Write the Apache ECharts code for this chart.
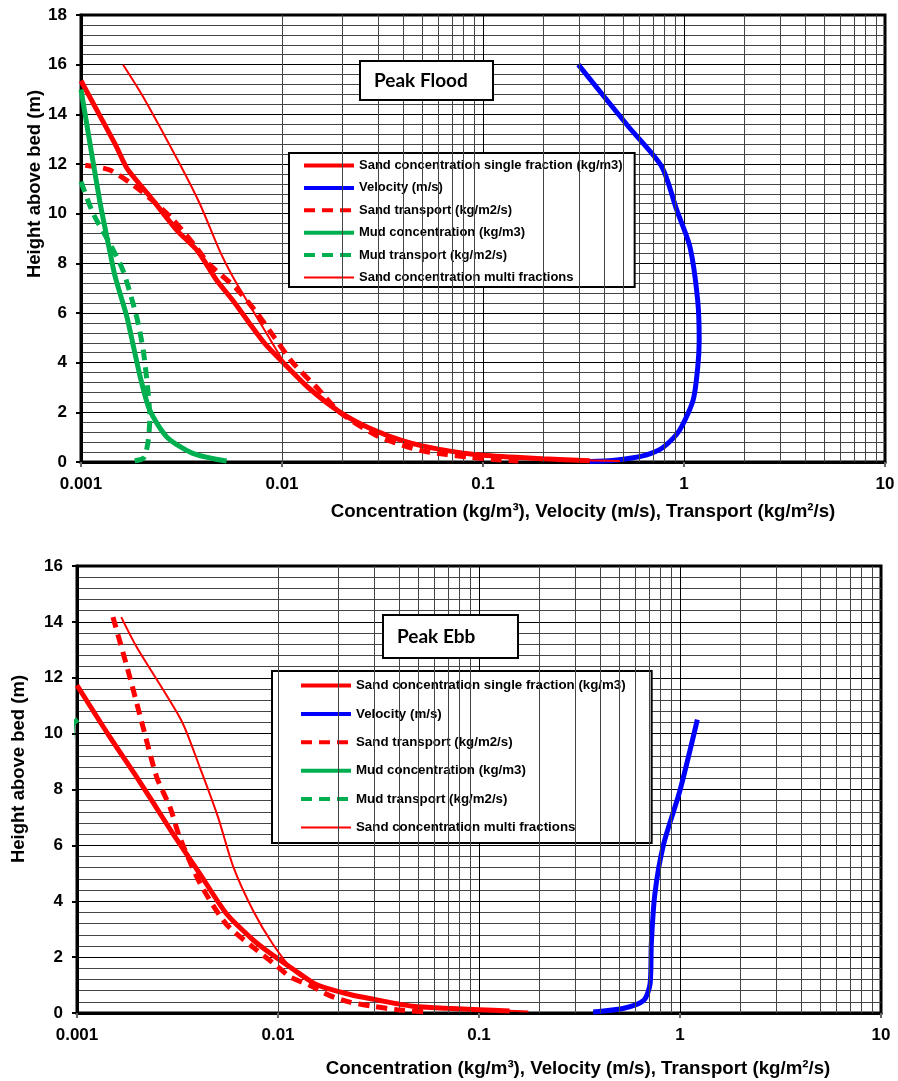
<!DOCTYPE html>
<html><head><meta charset="utf-8">
<script src="https://cdn.jsdelivr.net/npm/echarts@6/dist/echarts.min.js"></script>
<style>html,body{margin:0;padding:0;background:#fff}#c{width:898px;height:1081px}</style>
</head><body><div id="c"></div>
<script>
// ---------- names & labels ----------
const seriesNames = [
  'Sand concentration single fraction (kg/m3)',
  'Velocity (m/s)',
  'Sand transport (kg/m2/s)',
  'Mud concentration (kg/m3)',
  'Mud transport (kg/m2/s)',
  'Sand concentration multi fractions'
];
const panelTitles = ['Peak Flood', 'Peak Ebb'];
const xTickLabels = ['0.001', '0.01', '0.1', '1', '10'];
const xAxisTitle = 'Concentration (kg/m\u00B3), Velocity (m/s), Transport (kg/m\u00B2/s)';
const yAxisTitle = 'Height above bed (m)';

// ---------- Peak Flood data: [value, height] ----------
const floodSandConc = [[0.001,15.35],[0.00125,13.9],[0.0015,12.7],[0.0017,11.8],[0.0022,10.7],[0.003,9.33],[0.0038,8.5],[0.0047,7.35],[0.0057,6.5],[0.0068,5.65],[0.0082,4.78],[0.01,4.05],[0.0135,3.0],[0.0195,2.0],[0.027,1.38],[0.04,0.85],[0.06,0.52],[0.1,0.27],[0.2,0.13],[0.34,0.05]];
const floodVelocity = [[0.298,16.0],[0.53,13.5],[0.774,11.9],[0.92,10.15],[1.07,8.67],[1.17,6.5],[1.19,4.9],[1.17,3.8],[1.11,2.49],[0.95,1.28],[0.79,0.6],[0.68,0.34],[0.56,0.17],[0.44,0.06],[0.34,0.02]];
const floodSandTransport = [[0.00105,11.95],[0.0014,11.75],[0.002,10.9],[0.0028,9.85],[0.0037,8.7],[0.0043,8.0],[0.0059,7.0],[0.0075,6.0],[0.0092,5.0],[0.0113,4.0],[0.0149,3.0],[0.0194,2.0],[0.0295,1.07],[0.04,0.67],[0.05,0.45],[0.066,0.3],[0.086,0.19],[0.113,0.1],[0.15,0.04]];
const floodMudConc = [[0.001,15.0],[0.00124,10.5],[0.00139,8.5],[0.00148,7.45],[0.00169,5.85],[0.00197,3.43],[0.0022,2.08],[0.00268,1.0],[0.0036,0.35],[0.0053,0.04]];
const floodMudTransport = [[0.001,11.29],[0.00115,10.0],[0.00139,8.8],[0.00162,7.7],[0.00189,5.85],[0.00204,4.5],[0.00215,2.9],[0.0022,1.8],[0.00215,0.75],[0.00204,0.15],[0.0018,0.04]];
const floodSandMulti = [[0.00162,16.0],[0.00204,14.7],[0.0031,12.0],[0.0039,10.4],[0.0049,8.5],[0.0057,7.45],[0.0068,6.4],[0.0078,5.6],[0.0094,4.5],[0.0105,3.9],[0.0135,3.0],[0.0195,2.0],[0.0306,1.2],[0.06,0.52],[0.1,0.27],[0.2,0.12],[0.48,0.04]];

// ---------- Peak Ebb data: [value, height] ----------
const ebbSandConc = [[0.001,11.73],[0.00145,9.9],[0.00195,8.52],[0.00235,7.62],[0.003,6.42],[0.00408,4.99],[0.00553,3.56],[0.0073,2.7],[0.00876,2.24],[0.0128,1.41],[0.0155,1.02],[0.022,0.69],[0.032,0.45],[0.047,0.24],[0.069,0.17],[0.1,0.12],[0.142,0.07]];
const ebbVelocity = [[1.22,10.5],[1.0,7.97],[0.83,6.06],[0.75,4.27],[0.72,2.48],[0.71,1.05],[0.66,0.45],[0.52,0.16],[0.37,0.04]];
const ebbSandTransport = [[0.00151,14.17],[0.00183,12.03],[0.00213,10.24],[0.00249,8.45],[0.0029,7.37],[0.00324,6.3],[0.0041,4.63],[0.0055,3.2],[0.0075,2.36],[0.0098,1.7],[0.0115,1.29],[0.0144,0.99],[0.018,0.63],[0.0228,0.39],[0.0297,0.24],[0.039,0.12],[0.054,0.04]];
const ebbMudConc = [[0.00101,10.5],[0.00095,10.3],[0.0008,0.05]];
const ebbMudTransport = [];
const ebbSandMulti = [[0.00166,14.17],[0.00198,13.1],[0.0033,10.48],[0.00408,8.8],[0.00503,7.01],[0.006,5.22],[0.0075,3.68],[0.0094,2.48],[0.0119,1.53],[0.0144,1.12],[0.022,0.7],[0.047,0.25],[0.1,0.12],[0.176,0.05]];

// ---------- axis ranges ----------
const yMaxes = [18, 16];

// minor log grid positions (2..9 per decade)
const minorX = [];
[0.001, 0.01, 0.1, 1].forEach(d => { for (let m = 2; m <= 9; m++) minorX.push(+(m * d).toPrecision(3)); });

const FONT = '"Liberation Sans", Arial, sans-serif';
const RED = '#FF0000', BLUE = '#0000FF', GREEN = '#00B050';
const styles = [
  {color: RED, width: 5, lw: 4, type: 'solid'},
  {color: BLUE, width: 5, lw: 4, type: 'solid'},
  {color: RED, width: 5, lw: 4, type: [11, 7]},
  {color: GREEN, width: 5, lw: 4, type: 'solid'},
  {color: GREEN, width: 5, lw: 4, type: [11, 7]},
  {color: RED, width: 2, lw: 2, type: 'solid'}
];

const grids = [
  {left: 81, top: 15, width: 804, height: 447},
  {left: 77, top: 566, width: 804, height: 447}
];
const layout = [
  {xNamePad: 200, xNameGap: 40, yNamePad: 109, yNameGap: 37,
   legend: {left: 289, top: 153, padding: [6, 12, 3, 13], itemGap: 9.4, fontSize: 13},
   title: {left: 360, top: 61, padding: [10, 25, 10, 14]}},
  {xNamePad: 198, xNameGap: 46, yNamePad: 41, yNameGap: 49,
   legend: {left: 272, top: 671, padding: [8, 26, 9, 27], itemGap: 15.4, fontSize: 13.3},
   title: {left: 383, top: 615, padding: [12, 43, 12, 14]}}
];
const dataSets = [
  [floodSandConc, floodVelocity, floodSandTransport, floodMudConc, floodMudTransport, floodSandMulti],
  [ebbSandConc, ebbVelocity, ebbSandTransport, ebbMudConc, ebbMudTransport, ebbSandMulti]
];

const xAxes = [], yAxes = [], series = [], legends = [], titles = [];
grids.forEach((g, gi) => {
  g.show = true; g.borderColor = '#000'; g.borderWidth = 3; g.backgroundColor = '#fff';
  g.containLabel = false; g.outerBoundsMode = 'none';
  const L = layout[gi];
  xAxes.push({
    type: 'log', logBase: 10, gridIndex: gi, min: 0.001, max: 10,
    axisLine: {show: true, lineStyle: {color: '#000', width: 3}},
    axisTick: {show: true, length: 5, lineStyle: {color: '#666', width: 2}},
    axisLabel: {fontFamily: FONT, fontWeight: 'bold', fontSize: 17, color: '#000', margin: 14,
      formatter: v => xTickLabels[Math.round(Math.log10(v)) + 3]},
    splitLine: {show: true, lineStyle: {color: '#000', width: 1}},
    name: xAxisTitle, nameLocation: 'middle', nameGap: L.xNameGap, nameMoveOverlap: false,
    nameTextStyle: {fontFamily: FONT, fontWeight: 'bold', fontSize: 18.7, color: '#000', padding: [0, 0, 0, L.xNamePad]}
  });
  yAxes.push({
    type: 'value', gridIndex: gi, min: 0, max: yMaxes[gi], interval: 2,
    axisLine: {show: true, lineStyle: {color: '#000', width: 3}},
    axisTick: {show: true, length: 5, lineStyle: {color: '#000', width: 2}},
    axisLabel: {fontFamily: FONT, fontWeight: 'bold', fontSize: 17, color: '#000', margin: 14},
    splitLine: {show: true, lineStyle: {color: '#000', width: 1}},
    minorTick: {show: false, splitNumber: 5},
    minorSplitLine: {show: true, lineStyle: {color: '#444', width: 1}},
    name: yAxisTitle, nameLocation: 'middle', nameGap: L.yNameGap, nameRotate: 90, nameMoveOverlap: false,
    nameTextStyle: {fontFamily: FONT, fontWeight: 'bold', fontSize: 18.5, color: '#000', padding: [0, 0, 0, L.yNamePad]}
  });
  // minor vertical log grid lines
  series.push({
    type: 'line', name: 'minorgrid' + gi, xAxisIndex: gi, yAxisIndex: gi, data: [], z: 1, silent: true,
    markLine: {silent: true, symbol: ['none', 'none'], label: {show: false}, animation: false,
      lineStyle: {color: '#444', width: 1, type: 'solid'},
      emphasis: {disabled: true},
      data: minorX.map(v => ({xAxis: v}))}
  });
  dataSets[gi].forEach((d, si) => {
    const s = styles[si];
    series.push({
      name: seriesNames[si], type: 'line', xAxisIndex: gi, yAxisIndex: gi, data: d,
      symbol: 'none', showSymbol: false, smooth: 0.25, clip: true, z: 3 + si,
      lineStyle: {color: s.color, width: s.width, type: s.type, cap: 'butt'},
      itemStyle: {color: s.color}
    });
  });
  legends.push({
    orient: 'vertical', left: L.legend.left, top: L.legend.top, padding: L.legend.padding,
    itemGap: L.legend.itemGap, itemWidth: 50, itemHeight: 14,
    data: seriesNames.map((n, si) => ({name: n, lineStyle: {width: styles[si].lw}})),
    borderColor: '#000', borderWidth: 2, backgroundColor: '#fff',
    itemStyle: {opacity: 0, color: 'rgba(0,0,0,0)', borderWidth: 0},
    lineStyle: {width: 'inherit'},
    textStyle: {fontFamily: FONT, fontWeight: 'bold', fontSize: L.legend.fontSize, color: '#000'},
    selectedMode: false
  });
  titles.push(Object.assign({
    text: panelTitles[gi], borderColor: '#000', borderWidth: 2, backgroundColor: '#fff',
    textStyle: {fontFamily: 'Lato, "Open Sans", sans-serif', fontWeight: 'bold', fontSize: 19, color: '#000'}
  }, L.title));
});

const chart = echarts.init(document.getElementById('c'), null, {renderer: 'canvas'});
chart.setOption({
  animation: false,
  backgroundColor: '#fff',
  title: titles,
  legend: legends,
  grid: grids,
  xAxis: xAxes,
  yAxis: yAxes,
  series: series
});
</script>
</body></html>
